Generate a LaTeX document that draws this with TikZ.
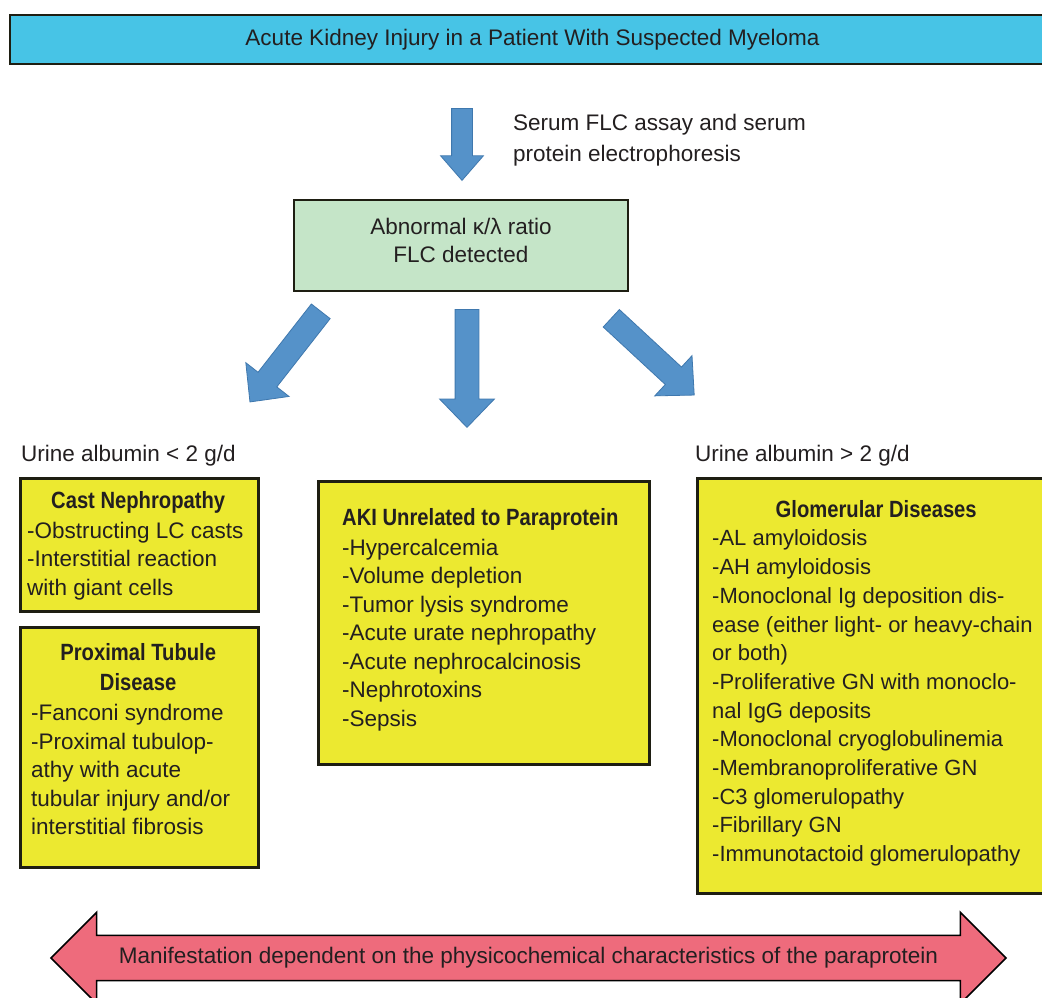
\documentclass[tikz,border=0pt]{standalone}
\usepackage{fontspec}
\setmainfont{Liberation Sans}
\newfontfamily\hdrfont[FakeStretch=0.86]{Liberation Sans}
\usetikzlibrary{shapes.arrows}
\definecolor{barcyan}{HTML}{47C4E6}
\definecolor{boxgreen}{HTML}{C5E5C8}
\definecolor{boxyellow}{HTML}{ECE930}
\definecolor{arrowblue}{HTML}{5592C9}
\definecolor{arrowedge}{HTML}{3F78AE}
\definecolor{arrowred}{HTML}{EE6B7C}
\definecolor{boxline}{HTML}{1E1E12}
\definecolor{txt}{HTML}{231F20}
\newcommand{\hdr}{\hdrfont\bfseries\fontsize{23.5}{28.5}\selectfont}
\begin{document}
\begin{tikzpicture}[x=1pt,y=-1pt,
  body/.style={font=\fontsize{22.5}{28.5}\selectfont, text=txt, inner sep=0pt},
  listtext/.style={body, align=left, anchor=north west},
  ybox/.style={draw=boxline, line width=3pt, fill=boxyellow, inner sep=0pt, anchor=north west},
  barrow/.style={single arrow, fill=arrowblue, draw=arrowedge, line width=0.8pt,
    inner xsep=0pt, inner ysep=11.5pt,
    single arrow head extend=15.5pt, single arrow tip angle=88, anchor=tail},
]
\clip (0,0) rectangle (1042,998);
\fill[white] (0,0) rectangle (1042,998);

% title bar
\node[draw=boxline, line width=2pt, fill=barcyan, minimum width=1045pt, minimum height=49pt,
  body, font=\fontsize{22.5}{28.5}\selectfont] (title) at (532.5,39.5)
  {Acute Kidney Injury in a Patient With Suspected Myeloma};

% first arrow and label
\node[barrow, inner ysep=10pt, single arrow head extend=11pt, single arrow tip angle=82,
  minimum height=72pt, rotate=-90] (a0) at (462,108) {};
\node[listtext, font=\fontsize{22.5}{31}\selectfont] (serum) at (513,110)
  {\rule{0pt}{20pt}Serum FLC assay and serum\\ protein electrophoresis};

% green box
\node[draw=boxline, line width=2.5pt, fill=boxgreen, minimum width=334pt, minimum height=91pt,
  body, align=center, font=\fontsize{22.5}{28}\selectfont] (flc) at (461,245.5)
  {Abnormal κ/λ ratio\\ FLC detected\rule[-10pt]{0pt}{10pt}};

% three arrows
\node[barrow, minimum height=115pt, rotate=-128] (a1) at (321,311) {};
\node[barrow, minimum height=118pt, rotate=-90] (a2) at (467,309) {};
\node[barrow, minimum height=113pt, rotate=-42.8] (a3) at (611,318) {};

% labels
\node[body, anchor=base west] (low) at (21,461) {Urine albumin < 2 g/d};
\node[body, anchor=base west] (high) at (695,461) {Urine albumin > 2 g/d};

% yellow boxes
\node[ybox, minimum width=238pt, minimum height=133pt] (cast) at (19,477) {};
\node[ybox, minimum width=238pt, minimum height=240pt] (prox) at (19,626) {};
\node[ybox, minimum width=331pt, minimum height=283pt] (aki) at (317,480) {};
\node[ybox, minimum width=370pt, minimum height=415pt] (glom) at (696,477) {};

\node[listtext] (castT) at (27,488)
  {\rule{0pt}{20pt}\makebox[222pt]{\hdr Cast Nephropathy}\\[1.5pt]
   -Obstructing LC casts\\ -Interstitial reaction\\ with giant cells};
\node[listtext] (proxT) at (31,640)
  {\rule{0pt}{20pt}\makebox[214pt]{\hdr Proximal Tubule}\\[1.5pt]
   \makebox[214pt]{\hdr Disease}\\[2pt]
   -Fanconi syndrome\\ -Proximal tubulop-\\ athy with acute\\ tubular injury and/or\\ interstitial fibrosis};
\node[listtext] (akiT) at (342,505)
  {\rule{0pt}{20pt}{\hdr AKI Unrelated to Paraprotein}\\[1.5pt]
   -Hypercalcemia\\ -Volume depletion\\ -Tumor lysis syndrome\\ -Acute urate nephropathy\\
   -Acute nephrocalcinosis\\ -Nephrotoxins\\ -Sepsis};
\node[listtext, font=\fontsize{22}{28.7}\selectfont] (glomT) at (712,497)
  {\rule{0pt}{20pt}\makebox[328pt]{\hdr Glomerular Diseases}\\
   -AL amyloidosis\\ -AH amyloidosis\\ -Monoclonal Ig deposition dis-\\
   ease (either light- or heavy-chain\\ or both)\\ -Proliferative GN with monoclo-\\
   nal IgG deposits\\ -Monoclonal cryoglobulinemia\\ -Membranoproliferative GN\\
   -C3 glomerulopathy\\ -Fibrillary GN\\ -Immunotactoid glomerulopathy};

% bottom double arrow
\node[double arrow, fill=arrowred, draw=black, line width=1.5pt,
  inner xsep=0pt, inner ysep=11.5pt,
  double arrow head extend=23pt, double arrow tip angle=90,
  minimum height=955pt, body, inner ysep=11.5pt, text=txt] (manif) at (528.5,958)
  {Manifestation dependent on the physicochemical characteristics of the paraprotein};
\end{tikzpicture}
\end{document}
